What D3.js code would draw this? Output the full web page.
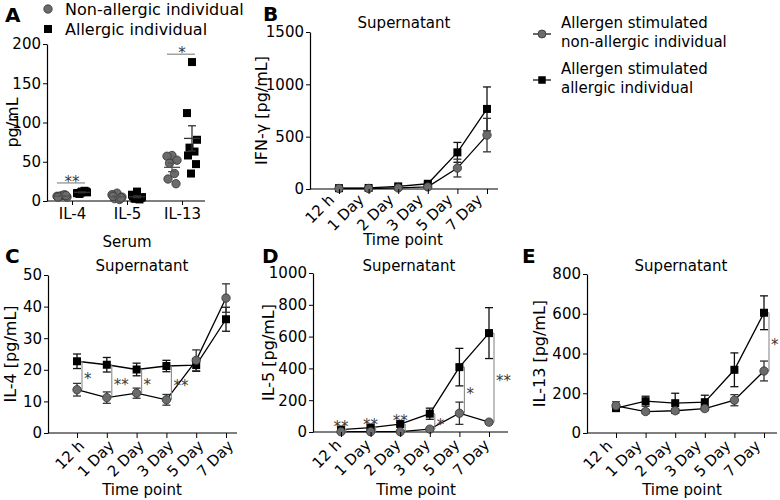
<!DOCTYPE html>
<html><head><meta charset="utf-8">
<script src="https://cdn.jsdelivr.net/npm/d3@7"></script>
<style>body{margin:0;background:#fff}svg{display:block}</style>
</head><body><svg id="c" width="780" height="500"></svg>
<script>
// ---------- DATA ----------
const serumCats = ["IL-4", "IL-5", "IL-13"];
const serumNonIL4 = [7, 6, 5, 6, 8, 5, 7];
const serumAllIL4 = [12, 10, 11, 9, 13, 10, 12, 11];
const serumNonIL5 = [10, 8, 5, 3, 2, 6, 4];
const serumAllIL5 = [12, 8, 5, 3, 2, 6, 4, 3];
const serumNonIL13 = [58, 57, 52, 48, 35, 28, 22];
const serumAllIL13 = [177, 112, 78, 68, 63, 58, 47, 35];
const serumSig = ["**", "", "*"];
const serumTicks = [0, 50, 100, 150, 200];

const timeCats = ["12 h", "1 Day", "2 Day", "3 Day", "5 Day", "7 Day"];

const ifnNon = [5, 5, 10, 20, 200, 515];
const ifnNonErr = [3, 3, 5, 8, 85, 160];
const ifnAll = [8, 10, 25, 50, 350, 765];
const ifnAllErr = [4, 5, 8, 15, 95, 210];
const ifnTicks = [0, 500, 1000, 1500];

const il4Non = [13.7, 11.2, 12.6, 10.5, 23.0, 42.7];
const il4NonErr = [2.0, 1.8, 1.6, 1.7, 3.3, 4.5];
const il4All = [22.7, 21.6, 20.1, 21.2, 21.5, 36.0];
const il4AllErr = [2.3, 2.3, 2.0, 1.8, 2.0, 3.8];
const il4Sig = ["*", "**", "*", "**", "", ""];
const il4Ticks = [0, 10, 20, 30, 40, 50];

const il5Non = [2, 2, 2, 18, 118, 62];
const il5NonErr = [2, 2, 2, 5, 70, 10];
const il5All = [15, 28, 50, 115, 408, 622];
const il5AllErr = [5, 8, 10, 35, 118, 160];
const il5Sig = ["**", "**", "**", "*", "*", "**"];
const il5Ticks = [0, 200, 400, 600, 800, 1000];

const il13Non = [137, 108, 112, 123, 165, 312];
const il13NonErr = [20, 10, 10, 10, 28, 50];
const il13All = [125, 160, 150, 155, 318, 605];
const il13AllErr = [15, 25, 50, 35, 85, 85];
const il13Sig = ["", "", "", "", "", "*"];
const il13Ticks = [0, 200, 400, 600, 800];

// ---------- STYLE ----------
const FF = '"DejaVu Sans", Verdana, sans-serif';
const GREY = "#6b6b6b", GREY_STROKE = "#333", SIG = "#8a8a8a", STAR = "#3a3a3a";
const svg = d3.select("#c");
svg.append("rect").attr("width", 780).attr("height", 500).attr("fill", "#fff");

function txt(x, y, s, size, opts = {}) {
  const t = svg.append("text").attr("x", x).attr("y", y).text(s)
    .attr("font-family", FF).attr("font-size", size).attr("fill", opts.fill || "#000")
    .attr("text-anchor", opts.anchor || "start");
  if (opts.bold) t.attr("font-weight", "bold");
  if (opts.rotate) t.attr("transform", `rotate(${opts.rotate},${x},${y})`);
  if (opts.dy) t.attr("dy", opts.dy);
  return t;
}

function yAxis(x0, y, ticks) {
  const g = svg.append("g").attr("transform", `translate(${x0},0)`)
    .call(d3.axisLeft(y).tickValues(ticks).tickFormat(d3.format("d")).tickSize(4).tickSizeOuter(0).tickPadding(2));
  g.attr("font-family", FF).attr("font-size", 15);
  g.select(".domain").attr("stroke", "#000").attr("stroke-width", 1.2);
  g.selectAll(".tick line").attr("stroke", "#000");
  g.selectAll("text").attr("fill", "#000");
}

function square(g, x, y, s) {
  g.append("rect").attr("x", x - s / 2).attr("y", y - s / 2).attr("width", s).attr("height", s)
    .attr("fill", "#000");
}
function circle(g, x, y, r) {
  g.append("circle").attr("cx", x).attr("cy", y).attr("r", r).attr("fill", GREY)
    .attr("stroke", GREY_STROKE).attr("stroke-width", 0.8);
}
function errBar(g, x, y1, y2, color) {
  g.append("line").attr("x1", x).attr("x2", x).attr("y1", y1).attr("y2", y2).attr("stroke", color).attr("stroke-width", 1.3);
  [y1, y2].forEach(yy => g.append("line").attr("x1", x - 4).attr("x2", x + 4).attr("y1", yy).attr("y2", yy).attr("stroke", color).attr("stroke-width", 1.3));
}

// ---------- PANEL A ----------
(function () {
  const x0 = 47, x1 = 205, yTop = 44, yBot = 201;
  const y = d3.scaleLinear().domain([0, 200]).range([yBot, yTop]);
  const x = d3.scalePoint().domain(serumCats).range([72, 182]);
  const g = svg.append("g");
  const xa = svg.append("g").attr("transform", `translate(0,${yBot})`)
    .call(d3.axisBottom(x).tickSize(4).tickSizeOuter(0).tickPadding(3));
  xa.attr("font-family", FF).attr("font-size", 15);
  xa.select(".domain").remove();
  xa.selectAll(".tick line").attr("stroke", "#000");
  xa.selectAll("text").attr("fill", "#000");
  g.append("line").attr("x1", x0).attr("x2", x1).attr("y1", yBot).attr("y2", yBot).attr("stroke", "#000").attr("stroke-width", 1.2);
  yAxis(x0, y, serumTicks);
  txt(12, (yTop + yBot) / 2, "pg/mL", 16, { anchor: "middle", rotate: -90, dy: "0.35em" });

  const jit = [0, -5, 5, -2.5, 2.5, -4, 4, -1, 1];
  const groups = [
    [serumNonIL4, serumAllIL4], [serumNonIL5, serumAllIL5], [serumNonIL13, serumAllIL13]
  ];
  groups.forEach((pair, ci) => {
    const cx = x(serumCats[ci]);
    pair.forEach((vals, si) => {
      const gx = cx + (si === 0 ? -10 : 10);
      const mean = d3.mean(vals), sem = d3.deviation(vals) / Math.sqrt(vals.length);
      vals.forEach((v, i) => {
        if (si === 0) circle(g, gx + jit[i % jit.length], y(v), 4.2);
        else square(g, gx + jit[i % jit.length], y(v), 8);
      });
      const col = si === 0 ? "#555" : "#333";
      g.append("line").attr("x1", gx - 8).attr("x2", gx + 8).attr("y1", y(mean)).attr("y2", y(mean)).attr("stroke", col).attr("stroke-width", 1.3);
      g.append("line").attr("x1", gx).attr("x2", gx).attr("y1", y(mean - sem)).attr("y2", y(mean + sem)).attr("stroke", col).attr("stroke-width", 1.3);
      [mean - sem, mean + sem].forEach(v => g.append("line").attr("x1", gx - 4).attr("x2", gx + 4).attr("y1", y(v)).attr("y2", y(v)).attr("stroke", col).attr("stroke-width", 1.3));
    });
    if (serumSig[ci]) {
      const top = d3.max(pair.flat()) + 10;
      g.append("line").attr("x1", cx - 15).attr("x2", cx + 13).attr("y1", y(top)).attr("y2", y(top)).attr("stroke", SIG).attr("stroke-width", 1.2);
      txt(cx, y(top) + 4, serumSig[ci], 15, { anchor: "middle", fill: STAR });
    }
  });
  circle(svg, 48, 9, 4.2);
  txt(65, 15, "Non-allergic individual", 16);
  square(svg, 48, 29, 8);
  txt(65, 35, "Allergic individual", 16);
  txt(5, 22, "A", 20, { bold: true });
  txt(127, 247, "Serum", 15, { anchor: "middle" });
})();

// ---------- TIME PANELS ----------
function timePanel(c) {
  const y = d3.scaleLinear().domain([0, c.max]).range([c.yBot, c.yTop]);
  const x = d3.scalePoint().domain(timeCats).range([c.first, c.last]);
  const g = svg.append("g");
  const xa = svg.append("g").attr("transform", `translate(0,${c.yBot})`)
    .call(d3.axisBottom(x).tickSize(5).tickSizeOuter(0));
  xa.attr("font-family", FF).attr("font-size", 15);
  xa.select(".domain").remove();
  xa.selectAll(".tick line").attr("stroke", "#000");
  xa.selectAll("text").attr("fill", "#000").attr("text-anchor", "end")
    .attr("x", 0).attr("y", 0).attr("dy", "0.35em")
    .attr("transform", `translate(${c.lab[0]},${c.lab[1]}) rotate(-45)`);
  g.append("line").attr("x1", c.x0).attr("x2", c.x1).attr("y1", c.yBot).attr("y2", c.yBot).attr("stroke", "#000").attr("stroke-width", 1.2);
  yAxis(c.x0, y, c.ticks);
  txt(c.ylabelX, c.ylabelY || (c.yTop + c.yBot) / 2, c.ylabel, 16, { anchor: "middle", rotate: -90, dy: "0.35em" });
  txt(c.titleX, c.titleY, "Supernatant", 15, { anchor: "middle" });
  txt(c.timeX, c.timeY, "Time point", 15, { anchor: "middle" });
  txt(c.letterX, c.letterY, c.letter, 20, { bold: true });

  const line = d3.line().x((d, i) => x(timeCats[i])).y(d => y(d));
  g.append("path").attr("d", line(c.all)).attr("fill", "none").attr("stroke", "#000").attr("stroke-width", 1.3);
  g.append("path").attr("d", line(c.non)).attr("fill", "none").attr("stroke", "#000").attr("stroke-width", 1.3);

  if (c.sig) c.sig.forEach((s, i) => {
    if (!s) return;
    const cx = x(timeCats[i]);
    const yb = y(c.all[i]), yg = y(c.non[i]);
    const lx = cx + 5;
    g.append("line").attr("x1", lx).attr("x2", lx).attr("y1", yb).attr("y2", yg).attr("stroke", SIG).attr("stroke-width", 1.1);
    [yb, yg].forEach(yy => g.append("line").attr("x1", cx).attr("x2", lx).attr("y1", yy).attr("y2", yy).attr("stroke", SIG).attr("stroke-width", 1.1));
    if (Math.abs(yb - yg) < 10) {
      txt(cx, Math.min(yb, yg) + 2, s, 15, { anchor: "middle", fill: STAR });
    } else {
      txt(lx + 2, (yb + yg) / 2 + 8.5, s, 15, { fill: STAR });
    }
  });

  c.all.forEach((v, i) => errBar(g, x(timeCats[i]), y(v - c.allErr[i]), y(v + c.allErr[i]), "#111"));
  c.non.forEach((v, i) => errBar(g, x(timeCats[i]), y(Math.max(0, v - c.nonErr[i])), y(v + c.nonErr[i]), "#333"));
  c.all.forEach((v, i) => square(g, x(timeCats[i]), y(v), 8));
  c.non.forEach((v, i) => circle(g, x(timeCats[i]), y(v), 4.2));
}

timePanel({ x0: 310, x1: 498, first: 339, last: 487, yTop: 32, yBot: 189, max: 1500, ticks: ifnTicks,
  ylabel: "IFN-γ [pg/mL]", ylabelX: 261, titleX: 404, titleY: 28, timeX: 403, timeY: 245, lab: [-8, 8],
  letter: "B", letterX: 263, letterY: 21, non: ifnNon, nonErr: ifnNonErr, all: ifnAll, allErr: ifnAllErr, sig: null });

timePanel({ x0: 48, x1: 237, first: 77, last: 226, yTop: 275, yBot: 433, max: 50, ticks: il4Ticks,
  ylabel: "IL-4 [pg/mL]", ylabelX: 10, titleX: 142, titleY: 271, timeX: 142, timeY: 495, lab: [4, 10],
  letter: "C", letterX: 5, letterY: 263, non: il4Non, nonErr: il4NonErr, all: il4All, allErr: il4AllErr, sig: il4Sig });

timePanel({ x0: 313, x1: 508, first: 341, last: 489, yTop: 273, yBot: 432, max: 1000, ticks: il5Ticks,
  ylabel: "IL-5 [pg/mL]", ylabelX: 268, titleX: 409, titleY: 271, timeX: 416, timeY: 495, lab: [-3, 10],
  letter: "D", letterX: 262, letterY: 263, non: il5Non, nonErr: il5NonErr, all: il5All, allErr: il5AllErr, sig: il5Sig });

timePanel({ x0: 587, x1: 777, first: 616, last: 764, yTop: 274, yBot: 433, max: 800, ticks: il13Ticks,
  ylabel: "IL-13 [pg/mL]", ylabelX: 539, titleX: 681, titleY: 271, timeX: 682, timeY: 495, lab: [-7, 10],
  letter: "E", letterX: 522, letterY: 263, non: il13Non, nonErr: il13NonErr, all: il13All, allErr: il13AllErr, sig: il13Sig });

// ---------- LEGEND ----------
(function () {
  const items = [["Allergen stimulated", "non-allergic individual", 34, "c"], ["Allergen stimulated", "allergic individual", 80, "s"]];
  items.forEach(([a, b, yy, m]) => {
    svg.append("line").attr("x1", 533).attr("x2", 551).attr("y1", yy).attr("y2", yy).attr("stroke", "#000").attr("stroke-width", 1.2);
    if (m === "c") circle(svg, 542, yy, 4); else square(svg, 542, yy, 7.5);
    txt(561, yy - 6, a, 15);
    txt(561, yy + 13, b, 15);
  });
})();
</script>
</body></html>
